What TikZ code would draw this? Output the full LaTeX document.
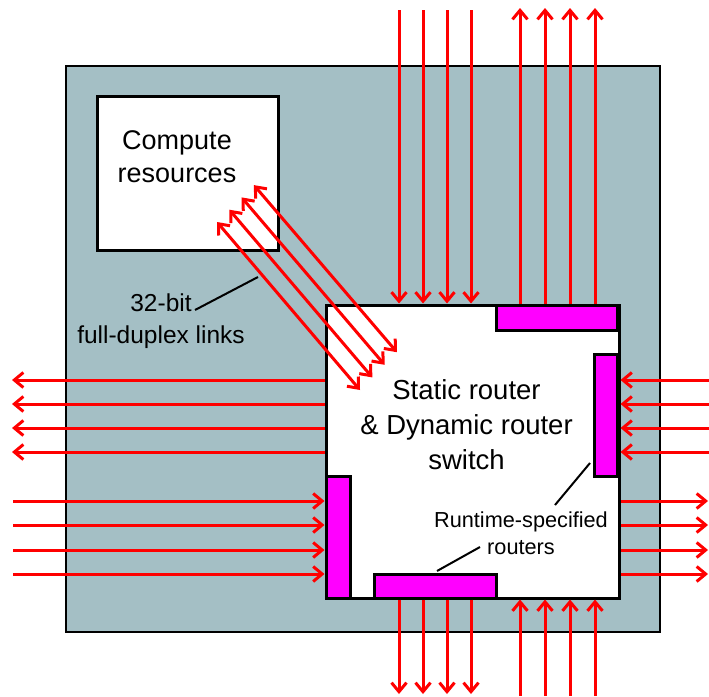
\documentclass[tikz,border=0pt]{standalone}
\usepackage{fontspec}
\setmainfont{Liberation Sans}
\usetikzlibrary{positioning,arrows.meta}
\definecolor{tilegray}{RGB}{164,191,197}
\definecolor{rtrpink}{RGB}{255,0,255}

\begin{document}
\begin{tikzpicture}[x=1pt, y=-1pt,
  tile/.style={draw, line width=2pt, fill=tilegray},
  box/.style={draw, line width=3pt, fill=white},
  rtr/.style={draw, line width=3pt, fill=rtrpink},
  link/.style={red, line width=3pt, -{Straight Barb[length=9pt,width=15pt]}},
  duplex/.style={red, line width=3pt, {Straight Barb[length=9pt,width=15pt]}-{Straight Barb[length=9pt,width=15pt]}},
  big/.style={font=\fontsize{27.5}{35}\selectfont, align=center, inner sep=0pt},
  lbl/.style={font=\fontsize{24.5}{32}\selectfont, align=center, inner sep=1pt},
  note/.style={black, line width=2pt}]
\useasboundingbox (0,0) rectangle (709,696);
% tile
\node[tile, minimum width=594pt, minimum height=566pt] (tile) at (363,349) {};
% compute resources
\node[box, minimum width=181pt, minimum height=154pt] (cpu) at (187.5,173) {};
\node[big, font=\fontsize{27}{33}\selectfont] (cputxt) at (177,157) {Compute\\resources};
% switch and the routers on its sides
\node[box, minimum width=293pt, minimum height=293pt] (switch) at (472.5,451.5) {};
\node[big] (swtxt) at (466.5,425) {Static router\\\& Dynamic router\\switch};
\node[rtr, minimum width=121pt, minimum height=25pt] (rtrN) at (556.5,317.5) {};
\node[rtr, minimum width=23pt, minimum height=122pt] (rtrE) at (605.5,415) {};
\node[rtr, minimum width=24pt, minimum height=122pt] (rtrW) at (338,537) {};
\node[rtr, minimum width=122pt, minimum height=24pt] (rtrS) at (435,586) {};
% links to the neighbouring tiles
\foreach \x in {399,423,447,471} {
  \draw[link] (\x,10) -- (\x,0 |- switch.north);
  \draw[link] (\x,0 |- switch.south) -- (\x,694);
}
\foreach \x in {520,545,570,595} {
  \draw[link] (\x,0 |- switch.north) -- (\x,8);
  \draw[link] (\x,696) -- (\x,0 |- switch.south);
}
\foreach \y in {380,404,428,452} {
  \draw[link] (switch.west |- 0,\y) -- (12,\y);
  \draw[link] (709,\y) -- (switch.east |- 0,\y);
}
\foreach \y in {501,525,550,574} {
  \draw[link] (13,\y) -- (switch.west |- 0,\y);
  \draw[link] (switch.east |- 0,\y) -- (708,\y);
}
% links between compute and switch
\foreach \k in {0,...,3}
  \draw[duplex] ({217+12.3*\k},{222-12.3*\k}) -- ({360+12.3*\k},{390-12.6*\k});
% labels
\node[lbl] (bits) at (161,321) {32-bit\\full-duplex links};
\draw[note] (195,310) -- (258,277);
\node[lbl, font=\fontsize{21.7}{27}\selectfont] (rtl) at (521,533.5) {Runtime-specified\\routers};
\draw[note] (555,505) -- (590,463);
\draw[note] (480,547) -- (437,571);
\end{tikzpicture}
\end{document}
